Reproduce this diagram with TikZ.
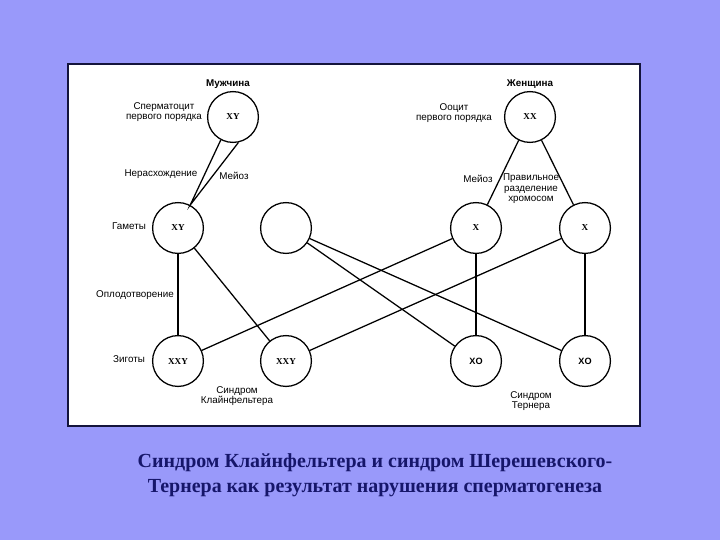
\documentclass[tikz,border=0pt]{standalone}
\usepackage{fontspec}
\setmainfont{Liberation Serif}
\setsansfont{Liberation Sans}
\definecolor{slidebg}{HTML}{9999FA}
\definecolor{framecol}{HTML}{14143C}
\definecolor{titlecol}{HTML}{16166A}

\begin{document}
\begin{tikzpicture}[x=0.025cm, y=-0.025cm, line width=0.9pt,
	cell/.style={draw, circle, fill=white, inner sep=0pt, minimum size=1.27cm, font=\rmfamily\bfseries\fontsize{6.5}{7}\selectfont},
	lbl/.style={align=center, inner sep=0pt, font=\sffamily\fontsize{7}{7.4}\selectfont},
	head/.style={lbl, font=\sffamily\bfseries\fontsize{7}{7.4}\selectfont}]
	\fill[slidebg] (0,0) rectangle (720,540);
	\useasboundingbox (0,0) rectangle (720,540);
	\draw[framecol, line width=2pt, fill=white] (68,64) rectangle (640,426);
	% cells
	\node[cell] (m) at (233,117) {XY};
	\node[cell] (f) at (530,117) {XX};
	\node[cell] (gm) at (178,228) {XY};
	\node[cell] (g0) at (286,228) {};
	\node[cell] (gf1) at (476,228) {X};
	\node[cell] (gf2) at (585,228) {X};
	\node[cell] (z1) at (178,361) {XXY};
	\node[cell] (z2) at (286,361) {XXY};
	\node[cell, font=\sffamily\bfseries\fontsize{6.5}{7}\selectfont] (z3) at (476,361) {XO};
	\node[cell, font=\sffamily\bfseries\fontsize{6.5}{7}\selectfont] (z4) at (585,361) {XO};
	\draw (m.-118) -- (gm.62) -- (m.-78);
	\draw (f) -- (gf1);
	\draw (f) -- (gf2);
	\draw (gm) -- (z1);
	\draw (gm) -- (z2);
	\draw (g0) -- (z3);
	\draw (g0) -- (z4);
	\draw (gf1) -- (z1);
	\draw (gf1) -- (z3);
	\draw (gf2) -- (z2);
	\draw (gf2) -- (z4);
	% labels
	\node[head] (mlab) at (228,84) {Мужчина};
	\node[head] (flab) at (530,84) {Женщина};
	\node[lbl] (sp) at (164,112) {Сперматоцит\\первого порядка};
	\node[lbl] (oo) at (454,113) {Ооцит\\первого порядка};
	\node[lbl] (nr) at (161,174) {Нерасхождение};
	\node[lbl] (mz1) at (234,176) {Мейоз};
	\node[lbl] (mz2) at (478,179) {Мейоз};
	\node[lbl] (pr) at (531,189) {Правильное\\разделение\\хромосом};
	\node[lbl] (gam) at (129,226) {Гаметы};
	\node[lbl] (opl) at (135,295) {Оплодотворение};
	\node[lbl] (zig) at (129,359) {Зиготы};
	\node[lbl] (kl) at (237,396) {Синдром\\Клайнфельтера};
	\node[lbl] (tr) at (531,401) {Синдром\\Тернера};
	% title
	\node[align=center, text=titlecol, font=\rmfamily\bfseries\fontsize{14.2}{17.4}\selectfont] (title) at (375,475)
	  {Синдром Клайнфельтера и синдром Шерешевского-\\Тернера как результат нарушения сперматогенеза};
\end{tikzpicture}
\end{document}
